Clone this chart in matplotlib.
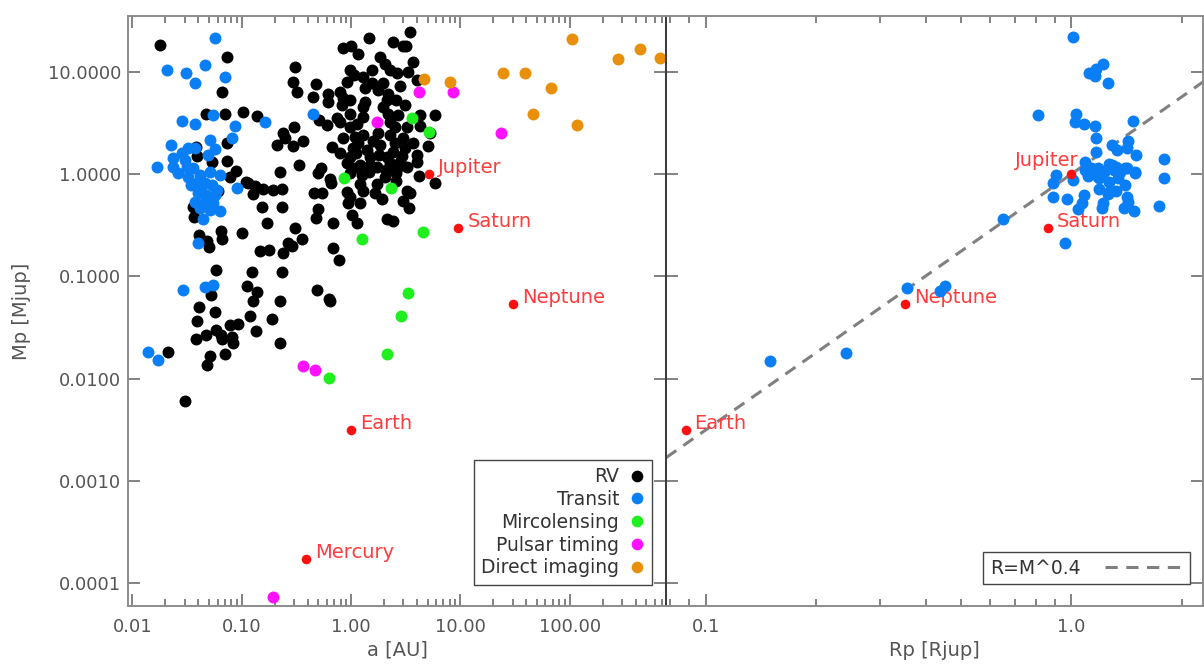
import numpy as np
import matplotlib
matplotlib.use('Agg')
import matplotlib.pyplot as plt
from matplotlib.lines import Line2D
from matplotlib.ticker import FixedLocator, FormatStrFormatter, LogLocator, NullLocator, NullFormatter

plt.rcParams['font.family'] = ['DejaVu Sans']

# --- radial velocity planets: semi-major axis [AU], mass [Mjup]
rv_a = [0.0177, 0.073, 0.066, 0.047, 0.070, 0.103, 0.137, 0.073, 0.038, 0.039,
        0.073, 0.053, 0.088, 0.078, 0.113, 0.132, 0.127, 0.060, 0.0355, 0.0362,
        0.041, 0.048, 0.050, 0.064, 0.066, 0.100, 0.146, 0.058, 0.123, 0.111,
        0.137, 0.126, 0.052, 0.041, 0.0565, 0.039, 0.118, 0.078, 0.092, 0.058,
        0.047, 0.038, 0.064, 0.066, 0.081, 0.083, 0.135, 0.021, 0.070, 0.051,
        0.048, 0.030, 0.189, 0.223, 0.223, 0.642,
        0.306, 0.294, 0.32, 0.30, 0.237, 0.248, 0.21, 0.294, 0.36, 0.333,
        0.223, 0.109, 0.155, 0.193, 0.233, 0.152, 0.233, 0.17, 0.306, 0.355,
        0.264, 0.287, 0.176, 0.237, 0.233, 0.49, 0.63, 0.477, 0.448, 0.615,
        0.615, 0.53, 0.50, 0.458, 0.54, 0.50, 0.48, 0.68, 0.78, 0.68,
        0.51, 0.60, 0.793,
        1.46, 3.48, 0.845, 1.0, 2.4, 3.0, 3.2, 1.16, 1.85, 2.05,
        3.7, 0.98, 1.56, 2.28, 2.64, 3.33, 1.07, 1.29, 0.92, 1.56,
        1.97, 2.82, 4.0, 0.793, 1.34, 1.77, 2.18, 0.845, 0.98, 1.34,
        2.14, 2.58, 0.83, 1.29, 1.97, 3.13, 0.98, 1.29, 0.74, 2.18,
        2.7, 4.3, 5.9, 0.98, 1.13, 2.28, 2.53, 3.27, 4.3, 0.67,
        0.845, 1.09, 1.29, 1.77, 2.28, 3.0, 3.7, 5.1, 0.793, 1.04,
        1.4, 1.85, 2.43, 3.13, 0.98, 1.49, 2.14, 2.82, 4.0, 0.92,
        1.21, 1.73, 3.27, 1.04, 1.49, 2.28, 2.64, 0.98, 1.26, 2.05,
        2.6, 4.2, 5.9, 1.73, 0.642, 0.66, 0.92, 0.98, 1.29, 1.66,
        1.93, 3.27, 3.48, 3.0, 3.4, 0.94, 1.21, 1.02, 1.14, 2.14,
        2.43, 4.0, 5.3,
        1.15, 1.6, 2.5, 1.1, 1.8, 2.9, 1.45, 2.1, 1.2, 2.6]
rv_m = [18.4, 13.8, 6.4, 3.9, 3.9, 4.0, 3.65, 2.0, 1.83, 1.5,
        1.34, 1.31, 1.07, 0.93, 0.81, 0.76, 0.64, 0.68, 0.48, 0.38,
        0.255, 0.22, 0.195, 0.28, 0.233, 0.265, 0.175, 0.116, 0.111, 0.081,
        0.071, 0.058, 0.066, 0.050, 0.045, 0.037, 0.041, 0.0333, 0.034, 0.0297,
        0.027, 0.0243, 0.027, 0.0243, 0.0254, 0.0225, 0.029, 0.0182, 0.0173, 0.0166,
        0.0136, 0.0061, 0.038, 0.0225, 0.057, 0.057,
        11.0, 7.9, 6.3, 2.87, 2.5, 2.24, 1.91, 1.87, 2.1, 1.22,
        1.05, 0.84, 0.715, 0.70, 0.715, 0.48, 0.48, 0.333, 0.30, 0.233,
        0.212, 0.199, 0.182, 0.17, 0.111, 0.073, 0.0595, 7.5, 5.6, 6.1,
        5.0, 1.14, 1.02, 0.65, 0.65, 0.46, 0.374, 0.333, 0.146, 0.19,
        3.35, 3.0, 3.2,
        21.5, 24.5, 17.2, 18.0, 19.7, 18.0, 18.0, 15.0, 14.0, 12.0,
        12.5, 10.3, 10.5, 10.3, 9.8, 10.0, 9.2, 8.8, 7.9, 7.7,
        7.7, 7.2, 8.2, 6.3, 6.9, 6.56, 6.1, 5.5, 5.25, 5.0,
        5.25, 5.25, 4.7, 4.5, 4.5, 4.7, 3.9, 3.6, 3.5, 3.9,
        3.75, 3.8, 3.8, 2.9, 3.1, 3.2, 2.87, 2.87, 2.93, 1.83,
        2.24, 2.3, 2.4, 2.5, 2.4, 2.24, 2.0, 1.87, 1.6, 1.79,
        1.71, 1.91, 1.64, 1.79, 1.46, 1.46, 1.46, 1.31, 1.31, 1.28,
        1.22, 1.17, 1.17, 1.14, 1.22, 1.28, 1.14, 1.02, 0.98, 0.94,
        1.02, 0.96, 0.82, 0.80, 0.89, 0.82, 0.67, 0.60, 0.68, 0.65,
        0.57, 0.68, 0.65, 0.55, 0.47, 0.52, 0.52, 0.40, 0.333, 0.365,
        0.35, 1.53, 2.5,
        2.0, 2.1, 2.0, 1.6, 1.55, 1.5, 1.05, 1.1, 0.8, 0.85]

# --- transiting planets (a, M)
tr_a = [0.0573, 0.0205, 0.0306, 0.0377, 0.0458, 0.0698, 0.055, 0.0282, 0.0377, 0.0863,
        0.0808, 0.0508, 0.0226, 0.0283, 0.0319, 0.0377, 0.0565, 0.0488, 0.0233, 0.0167,
        0.0233, 0.026, 0.0313, 0.0355, 0.0319, 0.0412, 0.0508, 0.0628, 0.0386, 0.0458,
        0.0533, 0.090, 0.0396, 0.0474, 0.0371, 0.0458, 0.0546, 0.0412, 0.0508, 0.0628,
        0.0443, 0.0396, 0.0288, 0.0458, 0.0546, 0.0140, 0.0173, 0.163, 0.448, 0.0565,
        0.0425, 0.059, 0.0346, 0.030]
tr_m = [21.5, 10.3, 9.6, 7.7, 11.7, 8.96, 3.75, 3.28, 3.06, 2.93,
        2.24, 2.14, 1.91, 1.6, 1.79, 1.79, 1.75, 1.53, 1.43, 1.17,
        1.17, 1.02, 1.17, 1.14, 0.935, 0.978, 1.05, 0.978, 0.817, 0.817,
        0.782, 0.73, 0.653, 0.625, 0.535, 0.535, 0.52, 0.467, 0.447, 0.437,
        0.365, 0.213, 0.073, 0.078, 0.083, 0.0182, 0.0152, 3.2, 3.9, 0.625,
        0.699, 0.699, 0.782, 1.37]

# --- transiting planets with measured radius (R [Rjup], M [Mjup])
tr_r = [1.01, 1.22, 1.12, 1.16, 1.17, 1.26, 0.81, 1.03, 1.02, 1.08,
        1.16, 1.47, 1.17, 1.17, 1.29, 1.33, 1.43, 1.42, 1.50, 1.79,
        1.09, 1.09, 1.14, 1.18, 1.27, 1.32, 1.42, 1.49, 0.91, 0.89,
        1.01, 1.18, 1.27, 1.34, 1.40, 1.79, 1.19, 1.27, 1.32, 1.08,
        0.89, 0.97, 1.42, 1.07, 1.22, 1.43, 1.04, 1.21, 1.39, 1.48,
        1.74, 0.96, 0.65, 0.356, 0.438, 0.451, 0.150, 0.242, 1.13, 1.29,
        1.31, 1.40, 1.49, 1.19, 1.26, 1.23, 1.36, 1.11]
tr_mr = [21.7, 11.9, 9.8, 9.1, 10.6, 7.8, 3.8, 3.9, 3.2, 3.06,
         2.94, 3.33, 2.25, 1.65, 1.91, 1.72, 2.12, 1.80, 1.52, 1.41,
         1.31, 1.09, 1.05, 1.15, 1.24, 1.18, 1.14, 1.03, 0.967, 0.813,
         0.864, 0.94, 0.84, 0.91, 0.78, 0.92, 0.714, 0.671, 0.687, 0.617,
         0.60, 0.57, 0.595, 0.52, 0.524, 0.536, 0.46, 0.462, 0.469, 0.435,
         0.49, 0.212, 0.361, 0.0774, 0.0718, 0.081, 0.0149, 0.0178, 1.14, 1.22,
         1.09, 1.14, 1.04, 0.908, 0.633, 1.05, 1.05, 0.955]

# --- microlensing
ml_a = [0.863, 2.33, 3.6, 5.2, 1.26, 4.5, 3.33, 2.87, 2.14, 0.63]
ml_m = [0.91, 0.73, 3.5, 2.56, 0.233, 0.27, 0.069, 0.041, 0.0173, 0.0101]

# --- pulsar timing
ps_a = [1.73, 4.2, 8.6, 23.3, 0.363, 0.468, 0.192]
ps_m = [3.2, 6.4, 6.3, 2.5, 0.0133, 0.0122, 7.3e-5]

# --- direct imaging
di_a = [4.6, 8.1, 24.3, 38.7, 68.0, 46.6, 116.0, 104.0, 275.0, 439.0, 670.0]
di_m = [8.4, 8.0, 9.8, 9.8, 7.0, 3.9, 3.0, 21.0, 13.4, 16.8, 13.7]

# --- solar system
ss_names = ['Mercury', 'Earth', 'Jupiter', 'Saturn', 'Neptune']
ss_a = [0.387, 1.0, 5.2, 9.58, 30.1]
ss_m = [0.000174, 0.00315, 1.0, 0.299, 0.054]
ss_r_names = ['Earth', 'Jupiter', 'Saturn', 'Neptune']
ss_r = [0.088, 1.0, 0.86, 0.35]
ss_rm = [0.00315, 1.0, 0.299, 0.054]

mr_exponent = 0.4

c_rv = 'black'
c_tr = '#0a7ff5'
c_ml = '#1fee1f'
c_ps = '#ff10ff'
c_di = '#e8900c'
c_ss = '#ff1010'
c_txt = '#ff3c3c'
grey = '#555555'

S = 74
S_SS = 48

fig = plt.figure(figsize=(12.04, 6.64), dpi=100)
ax1 = fig.add_axes([128 / 1204, 58 / 664, 538 / 1204, 590 / 664])
ax2 = fig.add_axes([666 / 1204, 58 / 664, 537 / 1204, 590 / 664], sharey=ax1)

# left: mass vs semi-major axis
ax1.scatter(rv_a, rv_m, s=S, c=c_rv, linewidths=0, zorder=3)
ax1.scatter(tr_a, tr_m, s=S, c=c_tr, linewidths=0, zorder=4)
ax1.scatter(ml_a, ml_m, s=S, c=c_ml, linewidths=0, zorder=5)
ax1.scatter(ps_a, ps_m, s=S, c=c_ps, linewidths=0, zorder=5)
ax1.scatter(di_a, di_m, s=S, c=c_di, linewidths=0, zorder=5)
ax1.scatter(ss_a, ss_m, s=S_SS, c=c_ss, linewidths=0, zorder=6)
for name, a, m in zip(ss_names, ss_a, ss_m):
    ax1.annotate(name, (a, m), xytext=(6.5, 4.5), textcoords='offset points',
                 ha='left', va='center', color=c_txt, fontsize=14)

# right: mass vs radius
ax2.scatter(tr_r, tr_mr, s=S, c=c_tr, linewidths=0, zorder=4)
ax2.scatter(ss_r, ss_rm, s=S_SS, c=c_ss, linewidths=0, zorder=6)
for name, r, m in zip(ss_r_names, ss_r, ss_rm):
    if name == 'Jupiter':
        ax2.annotate(name, (r, m), xytext=(5, 10), textcoords='offset points',
                     ha='right', va='center', color=c_txt, fontsize=14)
    else:
        ax2.annotate(name, (r, m), xytext=(6.5, 4.5), textcoords='offset points',
                     ha='left', va='center', color=c_txt, fontsize=14)

r_fit = np.array([0.07, 2.5])
ax2.plot(r_fit, r_fit ** (1 / mr_exponent), color='#808080', lw=2.2,
         ls=(0, (4, 2.8)), zorder=2)

# axes
ax1.set_xscale('log')
ax2.set_xscale('log')
ax1.set_yscale('log')
ax1.set_xlim(0.0091, 760)
ax2.set_xlim(0.0778, 2.29)
ax1.set_ylim(6.0e-5, 35)

ax1.xaxis.set_major_locator(FixedLocator([0.01, 0.1, 1, 10, 100]))
ax1.xaxis.set_major_formatter(FormatStrFormatter('%.2f'))
ax2.xaxis.set_major_locator(FixedLocator([0.1, 1.0]))
ax2.xaxis.set_major_formatter(FormatStrFormatter('%.1f'))
for ax in (ax1, ax2):
    ax.xaxis.set_minor_locator(LogLocator(base=10, subs=np.arange(2, 10)))
    ax.xaxis.set_minor_formatter(NullFormatter())
ax1.yaxis.set_major_locator(FixedLocator([1e-4, 1e-3, 1e-2, 1e-1, 1, 10]))
ax1.yaxis.set_major_formatter(FormatStrFormatter('%.4f'))
ax1.yaxis.set_minor_locator(NullLocator())

for ax in (ax1, ax2):
    ax.tick_params(which='both', direction='in', top=True, right=True,
                   color='#606060', width=1.1, labelcolor=grey, labelsize=13)
    ax.tick_params(which='major', length=8.5)
    ax.tick_params(which='minor', length=5)
    ax.tick_params(axis='x', pad=9)
    ax.tick_params(axis='y', pad=5)
    for side in ('left', 'right', 'top', 'bottom'):
        ax.spines[side].set_color('#8c8c8c')
        ax.spines[side].set_linewidth(1.4)
ax1.spines['right'].set_color('#3a3a3a')
ax2.spines['left'].set_color('#3a3a3a')
ax2.tick_params(labelleft=False)

ax1.set_xlabel('a [AU]', color=grey, fontsize=14, labelpad=3)
ax2.set_xlabel('Rp [Rjup]', color=grey, fontsize=14, labelpad=3)
ax1.set_ylabel('Mp [Mjup]', color=grey, fontsize=14, labelpad=12)

# legends
handles = [Line2D([], [], ls='', marker='o', ms=8.4, mew=0, color=c)
           for c in (c_rv, c_tr, c_ml, c_ps, c_di)]
labels = ['RV', 'Transit', 'Mircolensing', 'Pulsar timing', 'Direct imaging']
leg = ax1.legend(handles, labels, loc='lower right', bbox_to_anchor=(0.974, 0.036),
                 borderaxespad=0, markerfirst=False, fancybox=False, fontsize=13.5,
                 handlelength=0.8, handletextpad=0.55, labelspacing=0.2,
                 borderpad=0.4, framealpha=1, edgecolor='#444444')
leg.get_frame().set_linewidth(1.0)
for t in leg.get_texts():
    t.set_color('#333333')

fit_handle = Line2D([], [], color='#808080', lw=2.2, ls=(0, (4, 2.8)))
leg2 = ax2.legend([fit_handle], ['R=M^0.4'], loc='lower right',
                  bbox_to_anchor=(0.976, 0.037), borderaxespad=0,
                  markerfirst=False, fancybox=False, fontsize=13.5,
                  handlelength=4.2, handletextpad=1.3, borderpad=0.35,
                  framealpha=1, edgecolor='#444444')
leg2.get_frame().set_linewidth(1.0)
for t in leg2.get_texts():
    t.set_color('#333333')

fig.savefig('out.png', dpi=100)
